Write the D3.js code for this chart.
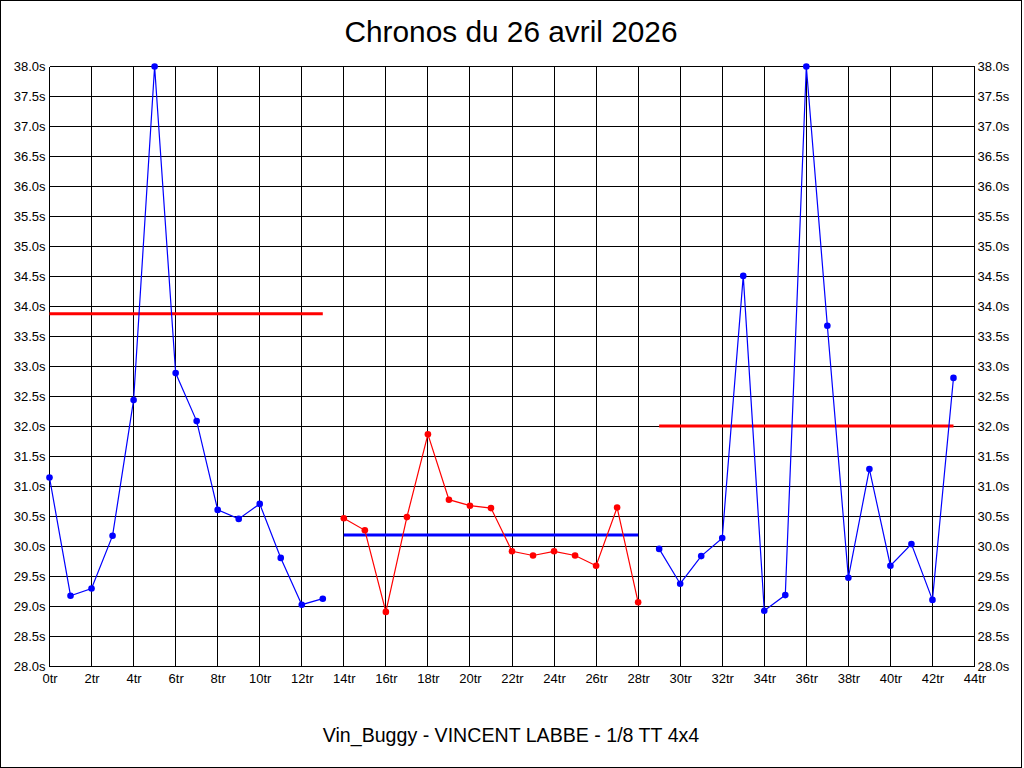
<!DOCTYPE html>
<html>
<head>
<meta charset="utf-8">
<script src="https://cdn.jsdelivr.net/npm/d3@7"></script>
<style>
  html, body { margin: 0; padding: 0; background: #fff; }
  svg { display: block; }
  text { font-family: "Liberation Sans", Arial, sans-serif; fill: #000; }
</style>
</head>
<body>
<svg id="chart" width="1024" height="768"></svg>
<script>
// ---- Data ----
const title = "Chronos du 26 avril 2026";
const footer = "Vin_Buggy - VINCENT LABBE - 1/8 TT 4x4";

const yTicks = [28.0, 28.5, 29.0, 29.5, 30.0, 30.5, 31.0, 31.5, 32.0, 32.5, 33.0, 33.5, 34.0, 34.5, 35.0, 35.5, 36.0, 36.5, 37.0, 37.5, 38.0];
const xTicks = [0, 2, 4, 6, 8, 10, 12, 14, 16, 18, 20, 22, 24, 26, 28, 30, 32, 34, 36, 38, 40, 42, 44];

// Run 1 (laps 0-13)
const run1Laps = [0, 1, 2, 3, 4, 5, 6, 7, 8, 9, 10, 11, 12, 13];
const run1Times = [31.15, 29.18, 29.30, 30.18, 32.44, 38.0, 32.89, 32.09, 30.61, 30.46, 30.71, 29.81, 29.03, 29.13];
const run1Avg = 33.88;

// Run 2 (laps 14-28)
const run2Laps = [14, 15, 16, 17, 18, 19, 20, 21, 22, 23, 24, 25, 26, 27, 28];
const run2Times = [30.47, 30.27, 28.91, 30.49, 31.87, 30.78, 30.68, 30.64, 29.92, 29.85, 29.92, 29.85, 29.68, 30.65, 29.07];
const run2Avg = 30.19;

// Run 3 (laps 29-43)
const run3Laps = [29, 30, 31, 32, 33, 34, 35, 36, 37, 38, 39, 40, 41, 42, 43];
const run3Times = [29.96, 29.38, 29.84, 30.14, 34.51, 28.93, 29.19, 38.0, 33.68, 29.48, 31.29, 29.68, 30.04, 29.11, 32.81];
const run3Avg = 32.01;

const runs = [
  { laps: run1Laps, times: run1Times, avg: run1Avg, color: "#0000ff", avgColor: "#ff0000" },
  { laps: run2Laps, times: run2Times, avg: run2Avg, color: "#ff0000", avgColor: "#0000ff" },
  { laps: run3Laps, times: run3Times, avg: run3Avg, color: "#0000ff", avgColor: "#ff0000" }
];

// ---- Layout ----
const svg = d3.select("#chart");
const pLeft = 49.5, pRight = 974.5, pTop = 66.5, pBottom = 666.5;

const x = d3.scaleLinear().domain([0, 44]).range([pLeft, pRight]);
const y = d3.scaleLinear().domain([28, 38]).range([pBottom, pTop]);

// outer border
svg.append("rect")
  .attr("x", 0.5).attr("y", 0.5)
  .attr("width", 1021).attr("height", 767)
  .attr("fill", "#fff").attr("stroke", "#000").attr("stroke-width", 1);

// title
svg.append("text")
  .attr("x", 511).attr("y", 42)
  .attr("text-anchor", "middle")
  .style("font-size", "29.8px")
  .text(title);

// footer
svg.append("text")
  .attr("x", 511).attr("y", 742)
  .attr("text-anchor", "middle")
  .style("font-size", "19.6px")
  .text(footer);

// grid
const grid = svg.append("g").attr("stroke", "#000").attr("stroke-width", 1).attr("shape-rendering", "crispEdges");
grid.selectAll("line.h").data(yTicks).enter().append("line")
  .attr("x1", pLeft).attr("x2", pRight)
  .attr("y1", d => y(d)).attr("y2", d => y(d));
grid.selectAll("line.v").data(xTicks).enter().append("line")
  .attr("x1", d => x(d)).attr("x2", d => x(d))
  .attr("y1", pTop).attr("y2", pBottom);

// axes (labels only)
const fmtY = d => d3.format(".1f")(d) + "s";
const leftAxis = d3.axisLeft(y).tickValues(yTicks).tickFormat(fmtY).tickSize(0).tickPadding(4);
const rightAxis = d3.axisRight(y).tickValues(yTicks).tickFormat(fmtY).tickSize(0).tickPadding(3);
const bottomAxis = d3.axisBottom(x).tickValues(xTicks).tickFormat(d => d + "tr").tickSize(0).tickPadding(7);

function styleAxis(g) {
  g.select(".domain").remove();
  g.selectAll("text").style("font-size", "13px").style("font-family", "'Liberation Sans', Arial, sans-serif").attr("fill", "#000");
}
svg.append("g").attr("transform", `translate(${pLeft},0)`).call(leftAxis).call(styleAxis);
svg.append("g").attr("transform", `translate(${pRight},0)`).call(rightAxis).call(styleAxis);
svg.append("g").attr("transform", `translate(0,${pBottom})`).call(bottomAxis).call(styleAxis);

// runs
runs.forEach(run => {
  const pts = run.laps.map((l, i) => [l, run.times[i]]);
  const line = d3.line().x(d => x(d[0])).y(d => y(d[1]));
  svg.append("line")
    .attr("x1", x(run.laps[0])).attr("x2", x(run.laps[run.laps.length - 1]))
    .attr("y1", y(run.avg)).attr("y2", y(run.avg))
    .attr("stroke", run.avgColor).attr("stroke-width", 3);
  svg.append("path")
    .datum(pts)
    .attr("d", line)
    .attr("fill", "none")
    .attr("stroke", run.color)
    .attr("stroke-width", 1.2);
  svg.append("g").selectAll("circle").data(pts).enter().append("circle")
    .attr("cx", d => x(d[0])).attr("cy", d => y(d[1]))
    .attr("r", 3.3)
    .attr("fill", run.color);
});
</script>
</body>
</html>
